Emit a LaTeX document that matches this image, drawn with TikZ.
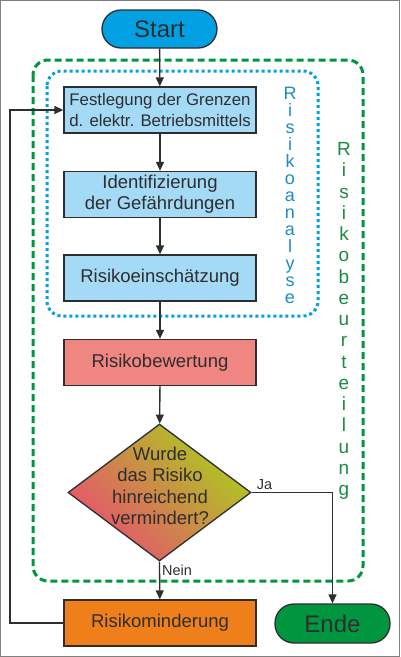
\documentclass[tikz,border=0pt]{standalone}
\usepackage{fontspec}
\setmainfont{Liberation Sans}
\usepackage{tikz}
\usetikzlibrary{arrows.meta, shapes.geometric}
\definecolor{linie}{HTML}{2E2E2E}
\definecolor{startblau}{HTML}{00A0E3}
\definecolor{hellblau}{HTML}{A5DAF7}
\definecolor{lachs}{HTML}{F08682}
\definecolor{orange}{HTML}{EE7F1A}
\definecolor{endgruen}{HTML}{00963F}
\definecolor{rahmengruen}{HTML}{00963F}
\definecolor{punktblau}{HTML}{00A0E3}
\definecolor{analysetext}{HTML}{1E8BC3}
\definecolor{beurteilungtext}{HTML}{1B8A45}
\definecolor{gelbgruen}{HTML}{ADCB1F}
\definecolor{rosa}{HTML}{E8506F}

\begin{document}
\begin{tikzpicture}[x=1pt, y=-1pt,
  box/.style={draw=linie, line width=1.3pt, minimum width=192pt, minimum height=46pt, inner sep=0pt, align=center, text=linie, font=\fontsize{18.5}{21.3}\selectfont},
  terminal/.style={draw=linie, line width=1.3pt, rounded corners=19pt, minimum width=115pt, minimum height=38pt, inner sep=0pt, text=linie, font=\fontsize{24}{28}\selectfont},
  pfeil/.style={draw=linie, line width=1.3pt, -{Triangle[length=9pt, width=8pt]}},
  marke/.style={text=linie, font=\fontsize{14.5}{17}\selectfont, inner sep=2pt}]
\useasboundingbox (0,0) rectangle (400,657);
\draw[gray, line width=1pt] (0.5,0.5) rectangle (399.5,656.5);

% Rahmen
\draw[rahmengruen, line width=3pt, dash pattern=on 7pt off 4pt, rounded corners=15pt] (33,60) rectangle (363,581);
\draw[punktblau, line width=3pt, dash pattern=on 3pt off 3pt, rounded corners=15pt] (47,71) rectangle (318,316);
\node[text=analysetext, align=center, font=\fontsize{18}{17}\selectfont] (analyse) at (290,195) {R\\i\\s\\i\\k\\o\\a\\n\\a\\l\\y\\s\\e};
\node[text=beurteilungtext, align=center, font=\fontsize{19}{21.25}\selectfont] (beurteilung) at (344,321) {R\\i\\s\\i\\k\\o\\b\\e\\u\\r\\t\\e\\i\\l\\u\\n\\g};

% Knoten
\node[terminal, fill=startblau] (start) at (159.5,29) {Start};
\node[box, fill=hellblau, font=\fontsize{16.8}{20.6}\selectfont] (festlegung) at (160,110) {Festlegung der Grenzen\\d. elektr. Betriebsmittels};
\node[box, fill=hellblau] (identifizierung) at (160,194.5) {Identifizierung\\der Gefährdungen};
\node[box, fill=hellblau] (einschaetzung) at (160,278) {Risikoeinschätzung};
\node[box, fill=lachs] (bewertung) at (160,362.5) {Risikobewertung};
\node[diamond, draw=linie, line width=1.3pt, minimum width=183pt, minimum height=137pt, inner sep=0pt, top color=gelbgruen, bottom color=rosa, shading angle=-45] (frage) at (159.5,492.5) {};
\node[text=linie, align=center, font=\fontsize{18.5}{21.4}\selectfont] (fragetext) at (160,486) {Wurde\\das Risiko\\hinreichend\\vermindert?};
\node[box, fill=orange] (minderung) at (160,623) {Risikominderung};
\node[terminal, fill=endgruen, minimum height=39pt] (ende) at (332.5,623.5) {Ende};
\coordinate (rueck) at (10,623);

% Verbindungen
\draw[pfeil] (start) -- (festlegung);
\draw[pfeil] (festlegung) -- (identifizierung);
\draw[pfeil] (identifizierung) -- (einschaetzung);
\draw[pfeil] (einschaetzung) -- (bewertung);
\draw[pfeil] (bewertung) -- (frage);
\draw[pfeil] (frage.south) -- node[marke, pos=0.22, anchor=west] (nein) {Nein} (minderung);
\draw[pfeil] (frage.east) -| node[marke, pos=0.08, anchor=south] (ja) {Ja} (ende.north);
\draw[pfeil] (minderung.west) -- (rueck) |- (festlegung.west);
\end{tikzpicture}
\end{document}
